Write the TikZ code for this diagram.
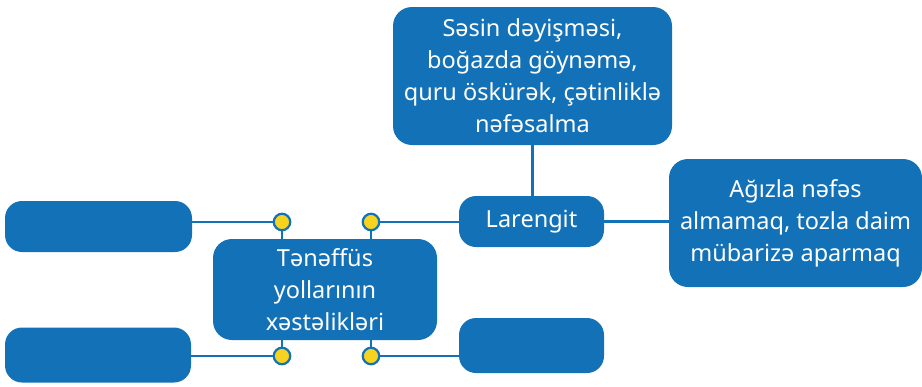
\documentclass[tikz,border=0pt]{standalone}
\usepackage{fontspec}
\setmainfont{Noto Sans}
\usepackage{tikz}

\definecolor{mapblue}{HTML}{1371B7}
\definecolor{dotyellow}{HTML}{F6D31E}

\begin{document}
\begin{tikzpicture}[x=1pt,y=-1pt]
\tikzstyle{box}=[draw=none,fill=mapblue,rounded corners=19pt,text=white,align=center,
  inner sep=0pt,font=\fontsize{23.5}{32}\selectfont];
\tikzstyle{dot}=[draw=mapblue,line width=2.2pt,fill=dotyellow,circle,inner sep=0pt,minimum size=16.5pt];
\tikzstyle{link}=[draw=mapblue,line width=2.5pt];
\useasboundingbox (0,0) rectangle (922,386);

\node[box,minimum width=279pt,minimum height=138pt] (symptoms) at (532.5,76)
  {Səsin dəyişməsi,\\boğazda göynəmə,\\quru öskürək, çətinliklə\\nəfəsalma};
\node[box,minimum width=145pt,minimum height=51pt,rounded corners=17pt] (laryngitis) at (531.5,221.5) {Larengit};
\node[box,minimum width=253pt,minimum height=128pt] (prevention) at (795.5,223)
  {Ağızla nəfəs\\almamaq, tozla daim\\mübarizə aparmaq};
\node[box,minimum width=224pt,minimum height=101pt] (diseases) at (325,289.5)
  {Tənəffüs\\yollarının\\xəstəlikləri};
\node[box,minimum width=187pt,minimum height=51pt,rounded corners=17pt] (topleft) at (98.5,226.5) {};
\node[box,minimum width=186pt,minimum height=55pt,rounded corners=17pt] (bottomleft) at (98,355) {};
\node[box,minimum width=145pt,minimum height=55pt,rounded corners=17pt] (bottomright) at (531.5,345.5) {};

% links
\draw[link] (symptoms.south) -- (symptoms.south |- laryngitis.north);
\draw[link] (laryngitis.east) -- (prevention.west |- laryngitis.east);

\node[dot] (dotTL) at (282,222) {};
\node[dot] (dotTR) at (371,222) {};
\node[dot] (dotBL) at (282,356) {};
\node[dot] (dotBR) at (371,356) {};

\draw[link] (dotTL.south) -- (dotTL |- diseases.north);
\draw[link] (dotTR.south) -- (dotTR |- diseases.north);
\draw[link] (dotBL.north) -- (dotBL |- diseases.south);
\draw[link] (dotBR.north) -- (dotBR |- diseases.south);

\draw[link] (dotTL.west) -- (topleft.east |- dotTL);
\draw[link] (dotTR.east) -- (laryngitis.west |- dotTR);
\draw[link] (dotBL.west) -- (bottomleft.east |- dotBL);
\draw[link] (dotBR.east) -- (bottomright.west |- dotBR);
\end{tikzpicture}
\end{document}
